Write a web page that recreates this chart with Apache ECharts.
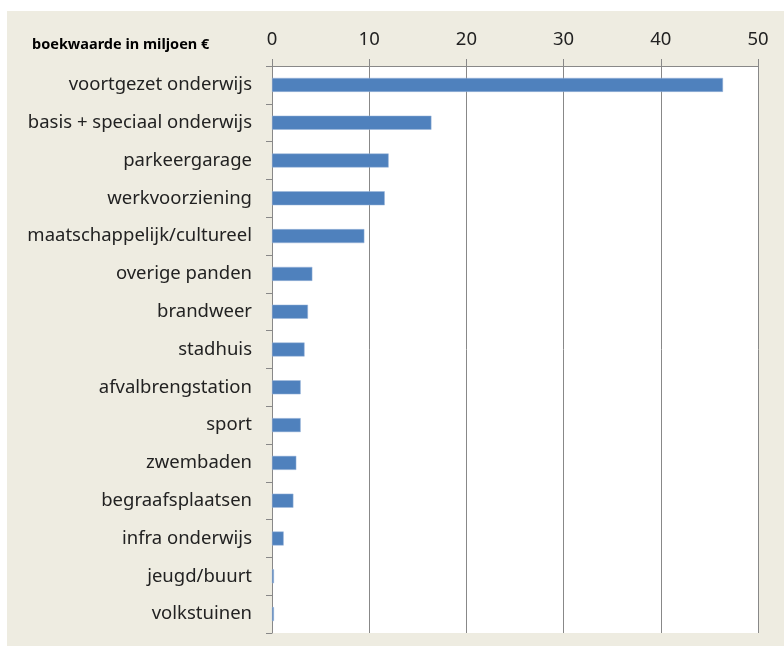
<!DOCTYPE html>
<html>
<head>
<meta charset="utf-8">
<script src="https://cdn.jsdelivr.net/npm/echarts@6/dist/echarts.min.js"></script>
<style>
body { margin: 0; background: #fff; }
#chart { position: absolute; left: 7px; top: 11px; width: 777px; height: 635px; background: #EEECE1; }
</style>
</head>
<body>
<div id="chart"></div>
<script>
var categories = ['voortgezet onderwijs', 'basis + speciaal onderwijs', 'parkeergarage', 'werkvoorziening',
    'maatschappelijk/cultureel', 'overige panden', 'brandweer', 'stadhuis', 'afvalbrengstation', 'sport',
    'zwembaden', 'begraafsplaatsen', 'infra onderwijs', 'jeugd/buurt', 'volkstuinen'];
var values = [46.4, 16.4, 12.0, 11.6, 9.5, 4.15, 3.7, 3.35, 2.95, 2.95, 2.5, 2.2, 1.2, 0.2, 0.2];

var myChart = echarts.init(document.getElementById('chart'));
var option = {
    animation: false,
    title: {
        text: 'boekwaarde in miljoen €',
        left: 20,
        top: 21,
        textStyle: { fontFamily: 'Noto Sans', fontSize: 14.5, fontWeight: 'bold', color: '#000' }
    },
    grid: { left: 265, top: 55, width: 486, height: 567, backgroundColor: '#fff', show: true, borderWidth: 0 },
    xAxis: {
        type: 'value',
        position: 'top',
        min: 0,
        max: 50,
        interval: 10,
        axisLine: { show: true, lineStyle: { color: '#888', width: 1 } },
        axisTick: { show: true, length: 7, lineStyle: { color: '#888' } },
        splitLine: { show: true, lineStyle: { color: '#888', width: 1 } },
        axisLabel: { margin: 17, fontFamily: 'Noto Sans', fontSize: 18.5, color: '#222' }
    },
    yAxis: {
        type: 'category',
        inverse: true,
        data: categories,
        axisLine: { show: true, lineStyle: { color: '#888', width: 1 } },
        axisTick: { show: true, length: 6, lineStyle: { color: '#888' } },
        axisLabel: { margin: 20, fontFamily: 'Noto Sans', fontSize: 18.5, color: '#222' }
    },
    series: [{
        type: 'bar',
        data: values,
        barWidth: 14,
        itemStyle: { color: '#4F81BD', borderColor: '#9DB6DA', borderWidth: 0.5 }
    }]
};
myChart.setOption(option);
</script>
</body>
</html>
